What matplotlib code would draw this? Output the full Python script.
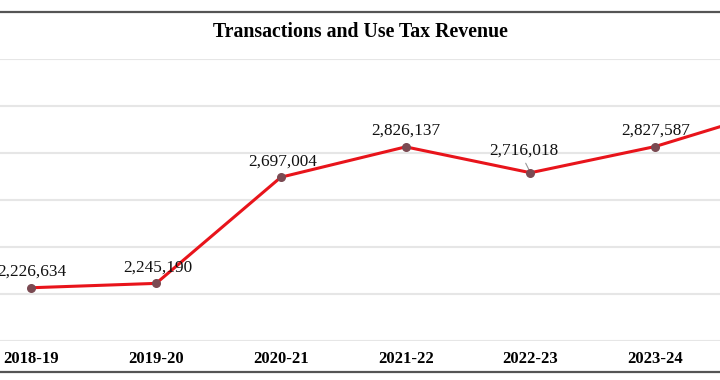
import matplotlib
matplotlib.use("Agg")
import matplotlib.pyplot as plt
from matplotlib.lines import Line2D

# データ（単位: 千ドル想定）
years = ["2018-19", "2019-20", "2020-21", "2021-22", "2022-23", "2023-24", "2024-25"]
revenue = [2226634, 2245190, 2697004, 2826137, 2716018, 2827587, 2990000]
# ラベル位置のずらし（px, 点からの相対位置）
label_dx = [0, 2, 2, 0, -7, 0, 0]
label_dy = [16, 16, 16, 16, 22, 16, 16]

plt.rcParams['font.family'] = ['Liberation Serif', 'DejaVu Serif']

W, H = 720, 380
fig = plt.figure(figsize=(W / 100, H / 100), dpi=100)

# 表示範囲: 左右は切れている
x0, x1 = -0.251, 5.519
ax = fig.add_axes([0, 39 / H, 1, 282 / H])

ax.yaxis.grid(True, color='#e6e6e6', linewidth=1.5)
ax.set_axisbelow(True)
ax.tick_params(axis='y', left=False, labelleft=False)
for s in ax.spines.values():
    s.set_visible(False)

xs = list(range(len(years)))
ax.plot(xs, revenue, color='#e8141b', linewidth=2.2, zorder=3)
ax.scatter(xs, revenue, s=30, color='#7a4a52', zorder=4)

ax.set_xticks(xs)
ax.set_xticklabels(years, fontsize=12, fontweight='bold')
ax.tick_params(axis='x', bottom=False, pad=4)
ax.set_yticks(range(2000000, 3200001, 200000))

# 目盛り設定の後で範囲を固定
ax.set_xlim(x0, x1)
ax.set_ylim(2000000, 3200000)

for x, v, dx, dy in zip(xs, revenue, label_dx, label_dy):
    ax.annotate(f"{v:,}", (x, v), xytext=(dx * 0.72, dy * 0.72), textcoords='offset points',
                ha='center', va='center', fontsize=12.4, color='#111111')

# 2022-23 の引き出し線
ax.annotate("", (4, revenue[4]), xytext=(-6 * 0.72, 12 * 0.72), textcoords='offset points',
            arrowprops=dict(arrowstyle='-', color='#999999', linewidth=0.8))

fig.text(0.5, 1 - 32 / H, "Transactions and Use Tax Revenue", ha='center', va='center',
         fontsize=14.3, fontweight='bold')

# 枠線
fig.add_artist(Line2D([0, 1], [1 - 12 / H, 1 - 12 / H], color='#555555', linewidth=1.6,
                      transform=fig.transFigure))
fig.add_artist(Line2D([0, 1], [1 - 372 / H, 1 - 372 / H], color='#555555', linewidth=1.6,
                      transform=fig.transFigure))

fig.savefig("out.png", dpi=100)
